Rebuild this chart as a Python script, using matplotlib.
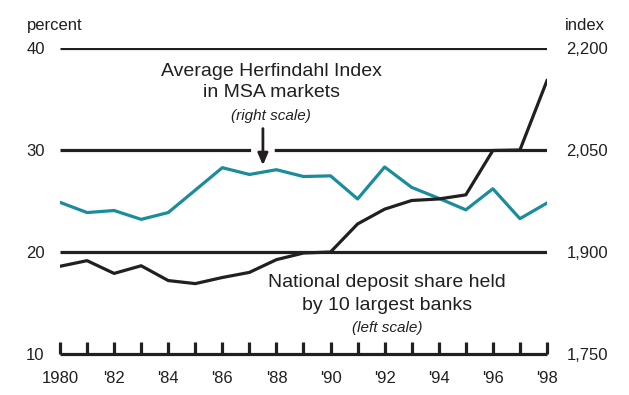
import matplotlib
matplotlib.use("Agg")
import matplotlib.pyplot as plt

plt.rcParams['font.family'] = ['Liberation Sans', 'DejaVu Sans']

years = list(range(1980, 1999))
# national deposit share held by 10 largest banks, percent (left scale)
deposit_share = [18.6, 19.15, 17.9, 18.65, 17.2, 16.9, 17.5, 18.0, 19.25, 19.9,
                 20.0, 22.75, 24.2, 25.05, 25.2, 25.6, 29.95, 30.0, 36.8]
# average Herfindahl index in MSA markets (right scale)
herfindahl = [1973, 1958, 1961, 1948, 1958, 1991, 2024, 2014, 2021, 2011,
              2012, 1978, 2025, 1995, 1979, 1962, 1993, 1949, 1972]

left_ticks = [10, 20, 30, 40]
right_ticks = [1750, 1900, 2050, 2200]
right_labels = ['1,750', '1,900', '2,050', '2,200']
x_ticks = list(range(1980, 1999, 2))
x_labels = ['1980'] + ["'%02d" % (y % 100) for y in x_ticks[1:]]

ink = '#231f20'
teal = '#1a8c9c'

fig = plt.figure(figsize=(6.29, 3.95), dpi=100)
ax = fig.add_axes([0.0954, 0.1038, 0.7742, 0.7747])
ax2 = ax.twinx()

ax.set_xlim(1980, 1998)
ax.set_ylim(10, 40)
ax2.set_ylim(1750, 2200)

# horizontal rules
for v in left_ticks[1:]:
    ax.axhline(v, color=ink, lw=2.3, zorder=1, solid_capstyle='butt')

ax2.plot(years, herfindahl, color=teal, lw=2.3, zorder=3)
ax.plot(years, deposit_share, color=ink, lw=2.3, zorder=4)

for a in (ax, ax2):
    for s in ('left', 'right', 'top'):
        a.spines[s].set_visible(False)
ax2.spines['bottom'].set_visible(False)
ax.spines['bottom'].set_linewidth(2.3)
ax.spines['bottom'].set_color(ink)
ax.spines['bottom'].set_capstyle('butt')

# a tick every year, a label every other year
ax.set_xticks(years)
ax.set_xticklabels([x_labels[x_ticks.index(y)] if y in x_ticks else '' for y in years])
ax.tick_params(axis='x', direction='in', length=9, width=2.3, color=ink,
               pad=12, labelsize=12, labelcolor=ink)

ax.set_yticks(left_ticks)
ax.tick_params(axis='y', length=0, pad=11, labelsize=12, labelcolor=ink)
ax2.set_yticks(right_ticks)
ax2.set_yticklabels(right_labels)
ax2.tick_params(axis='y', length=0, pad=14, labelsize=12, labelcolor=ink)

fig.text(0.043, 0.924, 'percent', fontsize=12, color=ink, va='baseline')
fig.text(0.898, 0.924, 'index', fontsize=12, color=ink, va='baseline')

# series labels
ax.text(1987.8, 37.25, 'Average Herfindahl Index', ha='center', va='baseline',
        fontsize=14, color=ink, zorder=6)
ax.text(1987.8, 35.15, 'in MSA markets', ha='center', va='baseline',
        fontsize=14, color=ink, zorder=6)
ax.text(1987.8, 32.95, '(right scale)', ha='center', va='baseline',
        fontsize=11, style='italic', color=ink, zorder=6)

# white gap in the 30 rule behind the arrow, then the arrow itself
ax.annotate('', xy=(1987.5, 29.5), xytext=(1987.5, 32.1),
            arrowprops=dict(arrowstyle='-', color='white', lw=17,
                            shrinkA=0, shrinkB=0), zorder=2)
ax.annotate('', xy=(1987.5, 28.5), xytext=(1987.5, 32.1),
            arrowprops=dict(arrowstyle='-|>,head_length=0.7,head_width=0.3',
                            color=ink, lw=2, shrinkA=0, shrinkB=0), zorder=5)

ax.text(1992.1, 16.6, 'National deposit share held', ha='center', va='baseline',
        fontsize=14, color=ink, zorder=6)
ax.text(1992.1, 14.3, 'by 10 largest banks', ha='center', va='baseline',
        fontsize=14, color=ink, zorder=6)
ax.text(1992.1, 12.15, '(left scale)', ha='center', va='baseline',
        fontsize=11, style='italic', color=ink, zorder=6)

ax.set_zorder(ax2.get_zorder() + 1)
ax.patch.set_visible(False)

fig.savefig('out.png', dpi=100)
